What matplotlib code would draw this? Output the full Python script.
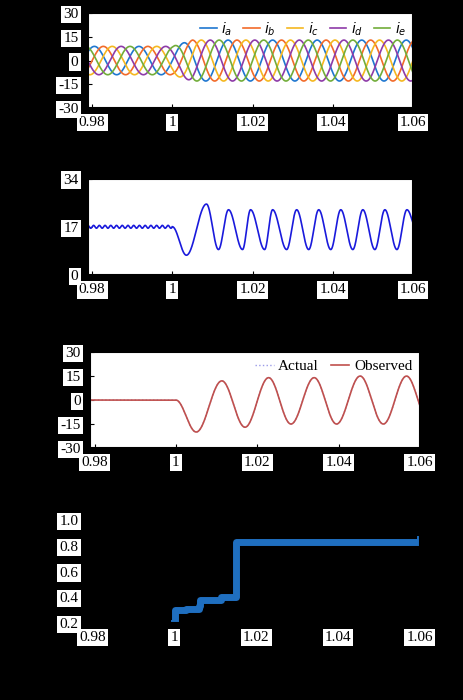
import numpy as np
import matplotlib
matplotlib.use("Agg")
import matplotlib.pyplot as plt

plt.rcParams['font.family'] = ['Liberation Serif', 'DejaVu Serif']

# Panel 1: five-phase currents (envelope)
p1_freq = 90.0
p1_amp_t = [0.97, 1.0, 1.005, 1.07]
p1_amp_v = [9.0, 9.0, 13.0, 13.0]
p1_labels = ['$i_a$', '$i_b$', '$i_c$', '$i_d$', '$i_e$']
p1_colors = ['#1f77d0', '#f26b2a', '#f5b820', '#8e3ba8', '#72ad3a']

# Panel 2: extrema after fault
p2_pre = 17.0
p2_t = [1.0, 1.0035, 1.0085, 1.0115, 1.014, 1.0175, 1.0195, 1.023, 1.025, 1.0285, 1.031, 1.034,
        1.0365, 1.0395, 1.042, 1.045, 1.0475, 1.0505, 1.053, 1.056, 1.0585, 1.061]
p2_v = [17, 7, 25, 9, 23, 9, 23, 9, 23, 9, 23, 9, 23, 9, 23, 9, 23, 9, 23, 9, 23, 16]

# Panel 3: actual / observed extrema
p3_t = [0.975, 1.0, 1.005, 1.0113, 1.017, 1.0228, 1.0283, 1.034, 1.0395, 1.0453, 1.051, 1.0567, 1.062]
p3_v = [0, 0, -20, 12, -17, 14, -15, 14, -15, 15, -15, 15, -12]

# Panel 4: step signal
p4_t = [1.0, 1.0001, 1.003, 1.006, 1.0062, 1.0115, 1.015, 1.0152, 1.05, 1.06]
p4_v = [0.2, 0.3, 0.31, 0.33, 0.38, 0.40, 0.41, 0.83, 0.83, 0.85]

xticks = [0.98, 1.0, 1.02, 1.04, 1.06]
xticklabels = ['0.98', '1', '1.02', '1.04', '1.06']

def smooth(tk, vk, t):
    out = np.empty_like(t)
    for i, x in enumerate(t):
        j = np.searchsorted(tk, x) - 1
        j = min(max(j, 0), len(tk) - 2)
        f = (x - tk[j]) / (tk[j + 1] - tk[j])
        f = min(max(f, 0), 1)
        w = (1 - np.cos(np.pi * f)) / 2
        out[i] = vk[j] + (vk[j + 1] - vk[j]) * w
    return out

fig = plt.figure(figsize=(4.64, 7.0), dpi=100, facecolor='black')
box = dict(facecolor='white', edgecolor='none', pad=1.5)

def style(ax, yt, ylab, face='white'):
    ax.set_facecolor(face)
    ax.set_xlim(0.979, 1.06)
    ax.set_xticks(xticks)
    ax.set_xticklabels(xticklabels)
    ax.set_yticks(yt)
    ax.set_yticklabels(ylab)
    ax.tick_params(direction='in', labelsize=11, colors='black', length=3)
    ax.tick_params(axis='y', pad=7)
    ax.tick_params(axis='x', pad=6)
    for lab in ax.get_xticklabels() + ax.get_yticklabels():
        lab.set_bbox(box)
    for s in ax.spines.values():
        s.set_color('black')
        s.set_linewidth(1.5)

t = np.linspace(0.979, 1.06, 3000)
# Panel 1
ax1 = fig.add_axes([0.19, 0.846, 0.70, 0.135])
amp = np.interp(t, p1_amp_t, p1_amp_v)
for k in range(5):
    ax1.plot(t, amp * np.sin(2 * np.pi * p1_freq * t - 2 * np.pi * k / 5), color=p1_colors[k], lw=1.2, label=p1_labels[k])
ax1.set_ylim(-30, 30)
style(ax1, [-30, -15, 0, 15, 30], ['-30', '-15', '0', '15', '30'])
ax1.legend(ncol=5, loc='upper right', frameon=False, fontsize=10, handlelength=1.2, columnspacing=0.8,
           handletextpad=0.3, borderaxespad=0.1)

# Panel 2
ax2 = fig.add_axes([0.19, 0.607, 0.70, 0.138])
tt = t[t >= 1.0]
pre = t[t < 1.0]
ax2.plot(pre, p2_pre + 0.5 * np.sin(2 * np.pi * 700 * pre), color='#1a1adc', lw=1.2)
ax2.plot(tt, smooth(np.array(p2_t), p2_v, tt), color='#1a1adc', lw=1.2)
ax2.set_ylim(0, 34)
style(ax2, [0, 17, 34], ['0', '17', '34'])

# Panel 3
ax3 = fig.add_axes([0.195, 0.36, 0.71, 0.137])
y3 = smooth(np.array(p3_t), p3_v, t)
ax3.plot(t, y3, color='#9a9ae8', lw=1, ls=':', label='Actual')
ax3.plot(t, y3, color='#c0504d', lw=1.2, label='Observed')
ax3.set_ylim(-30, 30)
style(ax3, [-30, -15, 0, 15, 30], ['-30', '-15', '0', '15', '30'])
ax3.legend(ncol=2, loc='upper right', frameon=False, fontsize=11, handlelength=1.2, columnspacing=0.8,
           handletextpad=0.3, borderaxespad=0.1)

# Panel 4
ax4 = fig.add_axes([0.19, 0.11, 0.715, 0.147])
ax4.step(p4_t, p4_v, where='post', color='#1f6fc0', lw=5)
ax4.set_ylim(0.2, 1.0)
style(ax4, [0.2, 0.4, 0.6, 0.8, 1.0], ['0.2', '0.4', '0.6', '0.8', '1.0'], face='black')

fig.savefig('out.png', dpi=100, facecolor='black')
